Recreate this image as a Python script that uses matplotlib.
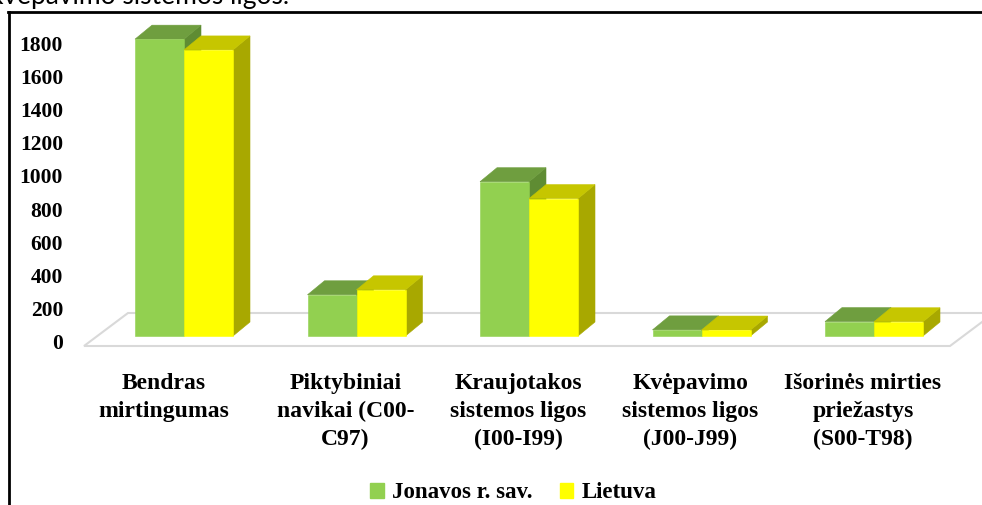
import matplotlib
matplotlib.use("Agg")
import matplotlib.pyplot as plt
from matplotlib.patches import Polygon, Patch

# data
categories = ["Bendras\nmirtingumas", "Piktybiniai\nnavikai (C00-\nC97)",
              "Kraujotakos\nsistemos ligos\n(I00-I99)", "Kvėpavimo\nsistemos ligos\n(J00-J99)",
              "Išorinės mirties\npriežastys\n(S00-T98)"]
jonava = [1793, 249, 932, 37, 87]
lietuva = [1728, 279, 830, 36, 86]
series_names = ["Jonavos r. sav.", "Lietuva"]
yticks = [0, 200, 400, 600, 800, 1000, 1200, 1400, 1600, 1800]

# colours: front, top, side
green = ("#92D050", "#6F9E3F", "#5F8C33")
yellow = ("#FFFF00", "#C6C600", "#A8A800")

W, H = 982, 505
fig = plt.figure(figsize=(W / 100, H / 100), dpi=100)
ax = fig.add_axes([0, 0, 1, 1])
ax.axis("off")

# pixel geometry of the pseudo-3d plot
cat_px = 172.5      # px between categories
x0_px = 184         # px of first category centre
base_px = 336       # px of bar front baseline
k = 298 / 1800      # px per unit
ax.set_xlim((0 - x0_px) / cat_px, (W - x0_px) / cat_px)
ax.set_ylim(-(H - base_px) / k, base_px / k)

bw = 49 / cat_px
ddx = 17 / cat_px
ddy = 14 / k


def box(x, h, cols):
    front = [(x, 0), (x + bw, 0), (x + bw, h), (x, h)]
    top = [(x, h), (x + bw, h), (x + bw + ddx, h + ddy), (x + ddx, h + ddy)]
    side = [(x + bw, 0), (x + bw + ddx, ddy), (x + bw + ddx, h + ddy), (x + bw, h)]
    for pts, c in ((side, cols[2]), (top, cols[1]), (front, cols[0])):
        ax.add_patch(Polygon(pts, closed=True, facecolor=c, edgecolor=c, lw=0.4, zorder=3))


# floor
fy0, fy1 = -10 / k, 23 / k
fx0, fx1 = (84 - x0_px) / cat_px, (950 - x0_px) / cat_px
fdx = 44 / cat_px
ax.add_patch(Polygon([(fx0, fy0), (fx1, fy0), (fx1 + fdx, fy1), (fx0 + fdx, fy1)],
                     closed=True, facecolor="white", edgecolor="#D9D9D9", lw=1.5, zorder=1))

for i in range(len(categories)):
    box(i - bw, jonava[i], green)
    box(i, lietuva[i], yellow)

# value labels
serif = "Liberation Serif"
for v in yticks:
    ax.text((63 - x0_px) / cat_px, v - 8 / k, str(v), ha="right", va="center",
            fontsize=15.5, fontweight="bold", family=serif)

# category labels
for i, lab in enumerate(categories):
    off = -20 if i == 0 else -11
    ax.text(i + off / cat_px, (base_px - 373) / k, lab, ha="center", va="top",
            fontsize=17, fontweight="bold", family=serif, linespacing=1.42)

fig.legend(handles=[Patch(color=green[0]), Patch(color=yellow[0])], labels=series_names,
           loc="center", bbox_to_anchor=(513 / W, 1 - 493 / H), ncol=2, frameon=False,
           handlelength=0.6, handleheight=0.6, handletextpad=0.35, columnspacing=1.2,
           prop={"family": serif, "weight": "bold", "size": 16.5})

# page frame and the text above it
fig.add_artist(plt.Line2D([8 / W, 1], [1 - 12 / H, 1 - 12 / H], color="black", lw=2))
fig.add_artist(plt.Line2D([9 / W, 9 / W], [0, 1 - 12 / H], color="black", lw=2))
fig.text(-14 / W, 1 - 4 / H, "Kvėpavimo sistemos ligos.", fontsize=19, family="Lato",
         va="baseline", ha="left")

fig.savefig("out.png", dpi=100)
